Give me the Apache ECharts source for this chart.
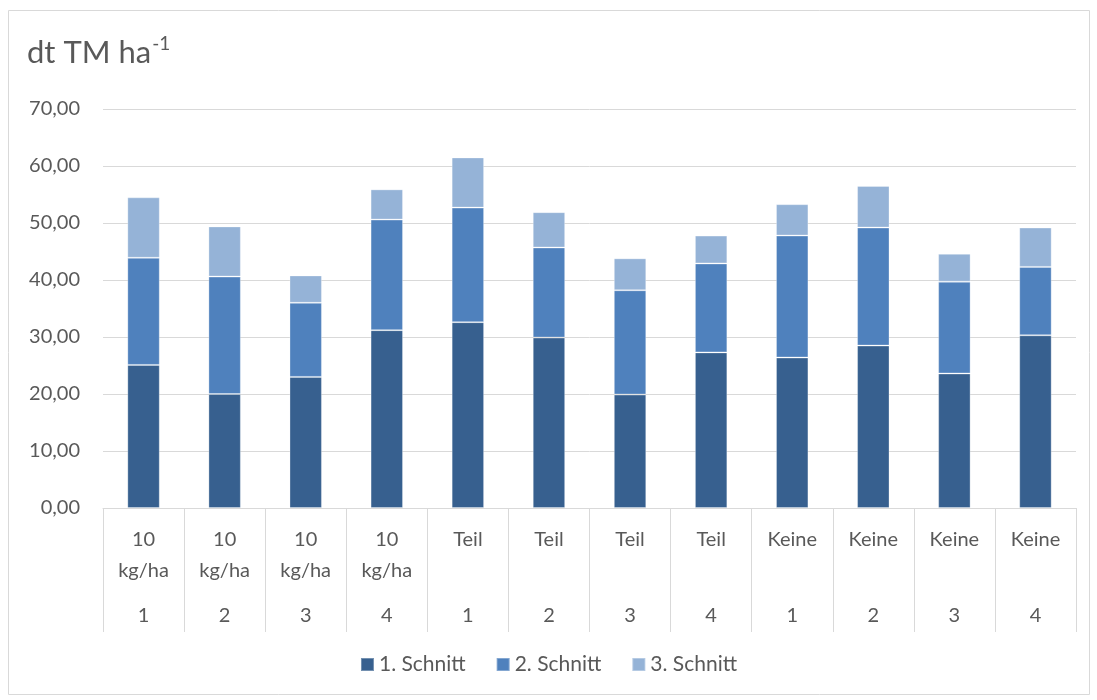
<!DOCTYPE html>
<html>
<head>
<meta charset="utf-8">
<script src="https://cdn.jsdelivr.net/npm/echarts@6/dist/echarts.min.js"></script>
<style>
  html, body { margin: 0; padding: 0; background: #fff; }
  #myChart { width: 1097px; height: 700px; }
</style>
</head>
<body>
<div id="myChart"></div>
<script>
// categories: treatment + repetition
var groups = ['10\nkg/ha', '10\nkg/ha', '10\nkg/ha', '10\nkg/ha', 'Teil', 'Teil', 'Teil', 'Teil', 'Keine', 'Keine', 'Keine', 'Keine'];
var reps = ['1', '2', '3', '4', '1', '2', '3', '4', '1', '2', '3', '4'];

var seriesNames = ['1. Schnitt', '2. Schnitt', '3. Schnitt'];
var schnitt1 = [25.1, 20.0, 23.0, 31.2, 32.6, 29.9, 19.9, 27.3, 26.4, 28.5, 23.6, 30.3];
var schnitt2 = [18.8, 20.6, 13.0, 19.4, 20.1, 15.8, 18.3, 15.6, 21.4, 20.7, 16.1, 12.0];
var schnitt3 = [10.6, 8.8, 4.8, 5.3, 8.8, 6.2, 5.6, 4.9, 5.5, 7.3, 4.9, 6.9];

var yTicks = { min: 0, max: 70, interval: 10 };

var colors = ['#37608f', '#4f81bd', '#95b3d7'];
var font = 'Lato, "Open Sans", sans-serif';
var textColor = '#595959';

var chartDom = document.getElementById('myChart');
var myChart = echarts.init(chartDom);

var cats = groups.map(function (g, i) { return i; });

function makeSeries(name, data) {
    return {
        name: name,
        type: 'bar',
        stack: 'total',
        barCategoryGap: '60%',
        itemStyle: { borderColor: 'rgba(255,255,255,0.3)', borderWidth: 1 },
        data: data
    };
}

var option = {
    animation: false,
    textStyle: { fontFamily: font },
    color: colors,
    title: {
        left: 22,
        top: 29,
        text: '{a|dt TM ha}{s|-1}',
        textStyle: {
            rich: {
                a: { fontFamily: font, fontSize: 31, fontWeight: 'normal', color: textColor, lineHeight: 38 },
                s: { fontFamily: font, fontSize: 19, fontWeight: 'normal', color: textColor, verticalAlign: 'top', lineHeight: 38, padding: [0, 0, 16, 1] }
            }
        }
    },
    graphic: [{
        type: 'rect',
        shape: { x: 8.5, y: 10.5, width: 1081, height: 684 },
        style: { fill: 'none', stroke: '#d9d9d9', lineWidth: 1 },
        silent: true
    }],
    legend: {
        bottom: 20,
        left: 'center',
        itemWidth: 13,
        itemHeight: 13,
        itemGap: 30,
        icon: 'rect',
        textStyle: { fontFamily: font, fontSize: 21, color: textColor },
        data: seriesNames
    },
    grid: { left: 103, right: 21, top: 109, bottom: 192, containLabel: false },
    xAxis: {
        type: 'category',
        data: cats,
        axisLine: { lineStyle: { color: '#d9d9d9' } },
        axisTick: { show: true, interval: 0, length: 124, lineStyle: { color: '#d9d9d9' } },
        axisLabel: {
            interval: 0,
            margin: 16,
            formatter: function (v) {
                var i = Number(v);
                var lines = groups[i].split('\n');
                var l2 = lines.length > 1 ? lines[1] : '\u00a0';
                return '{a|' + lines[0] + '}\n{a|' + l2 + '}\n{n|' + reps[i] + '}';
            },
            rich: {
                a: { fontFamily: font, fontSize: 20, color: textColor, lineHeight: 31, align: 'center' },
                n: { fontFamily: font, fontSize: 20, color: textColor, lineHeight: 60, align: 'center' }
            }
        }
    },
    yAxis: {
        type: 'value',
        min: yTicks.min,
        max: yTicks.max,
        interval: yTicks.interval,
        axisLine: { show: false },
        axisTick: { show: false },
        splitLine: { lineStyle: { color: '#d9d9d9', width: 1 } },
        axisLabel: {
            margin: 23,
            fontFamily: font,
            fontSize: 20,
            color: textColor,
            formatter: function (v) { return v.toFixed(2).replace('.', ','); }
        }
    },
    series: [
        makeSeries(seriesNames[0], schnitt1),
        makeSeries(seriesNames[1], schnitt2),
        makeSeries(seriesNames[2], schnitt3)
    ]
};

option && myChart.setOption(option);
</script>
</body>
</html>
